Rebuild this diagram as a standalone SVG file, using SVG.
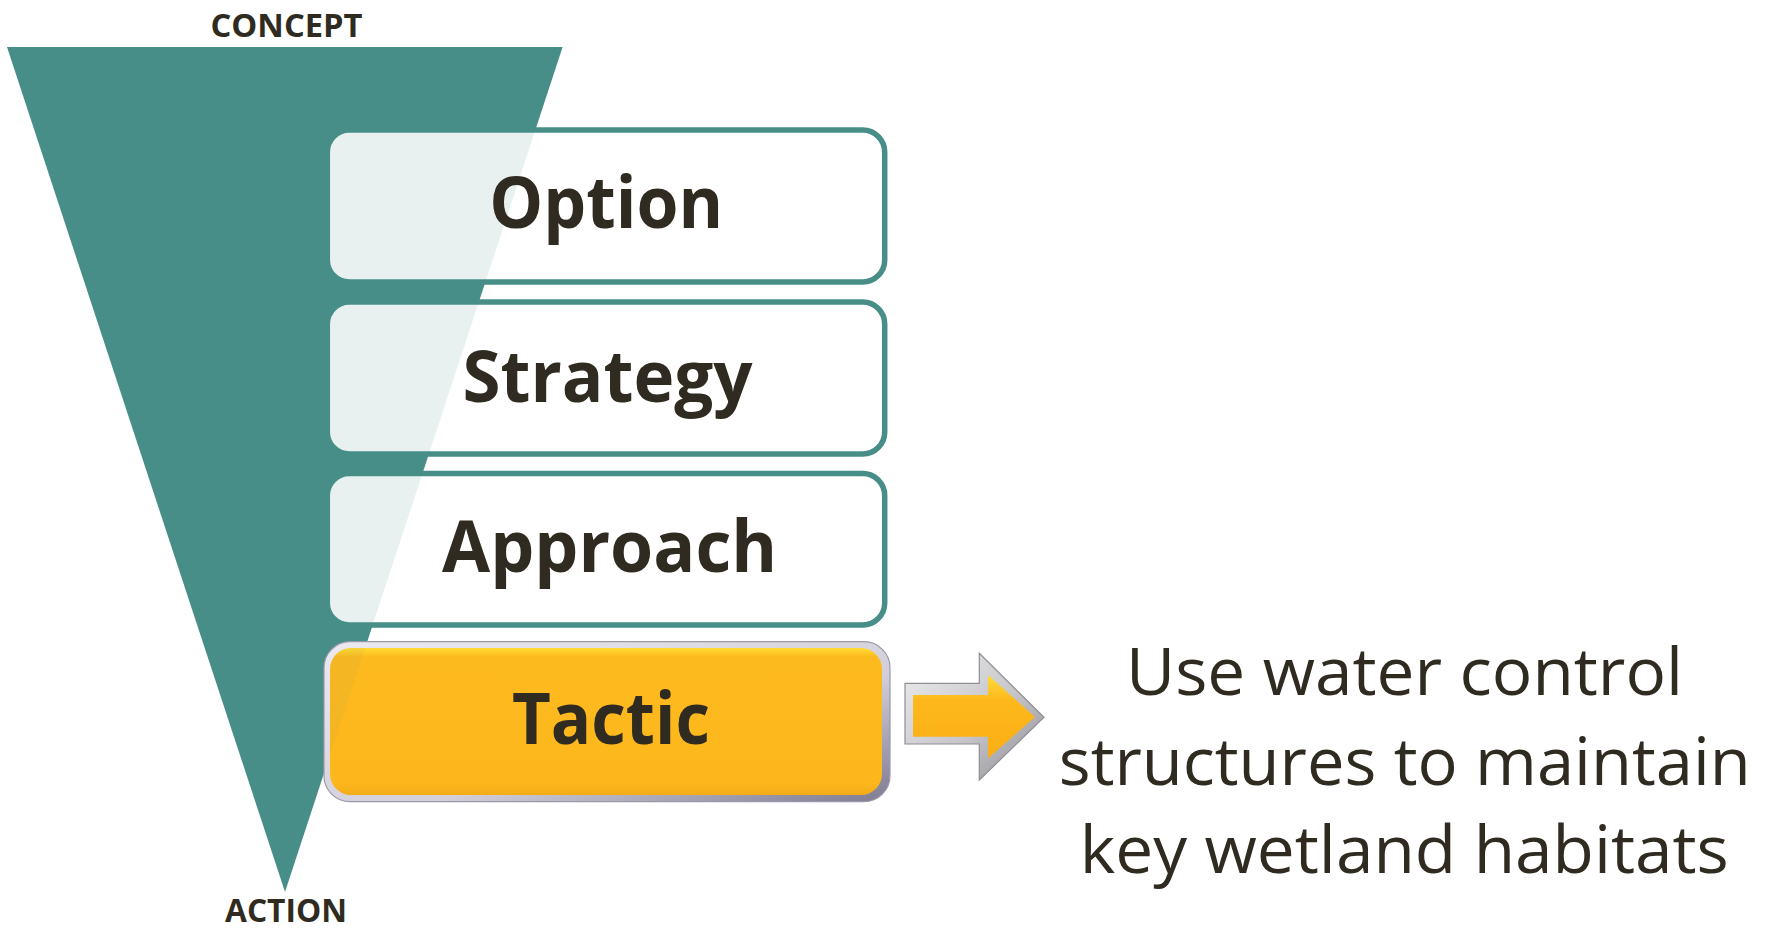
<svg xmlns="http://www.w3.org/2000/svg" width="1771" height="929" viewBox="0 0 1771 929">
<defs>
<style>
.lbl{font-family:"Open Sans","Liberation Sans",sans-serif;font-weight:700;fill:#2F2B21;text-anchor:middle}
.big{font-size:72px}
.small{font-size:32px}
.box{fill:#ffffff;fill-opacity:0.875;stroke:#478E89;stroke-width:5.5}
.desc{font-family:"Open Sans","Liberation Sans",sans-serif;font-weight:400;font-size:66px;fill:#2F2B21;text-anchor:middle}
</style>
<linearGradient id="yel" x1="0" y1="0" x2="0" y2="1">
<stop offset="0" stop-color="#FFDC34"/>
<stop offset="0.06" stop-color="#FDBA1E"/>
<stop offset="0.92" stop-color="#FDB71C"/>
<stop offset="1" stop-color="#F3AC16"/>
</linearGradient>
<linearGradient id="bevel" x1="0" y1="0" x2="1" y2="1">
<stop offset="0" stop-color="#ECEAF0"/>
<stop offset="0.6" stop-color="#D2CFDA"/>
<stop offset="1" stop-color="#7E7A90"/>
</linearGradient>
<linearGradient id="abevel" x1="0" y1="0" x2="1" y2="1">
<stop offset="0" stop-color="#EEEEF0"/>
<stop offset="0.55" stop-color="#C6C6CA"/>
<stop offset="1" stop-color="#8A8A90"/>
</linearGradient>
<linearGradient id="ayel" x1="0" y1="0" x2="0" y2="1">
<stop offset="0" stop-color="#FFDC3A"/>
<stop offset="0.3" stop-color="#FDB81C"/>
<stop offset="1" stop-color="#FBAE14"/>
</linearGradient>
<clipPath id="tclip">
<rect x="330" y="648" width="552" height="147" rx="21"/>
</clipPath>
</defs>
<rect width="1771" height="929" fill="#ffffff"/>

<g id="funnel">
<polygon points="7,47 562.6,47 285,892" fill="#478E89"/>
</g>
<g id="concept-label">
<text class="lbl small" x="286.5" y="37.3" textLength="152" lengthAdjust="spacingAndGlyphs">CONCEPT</text>
</g>
<g id="action-label">
<text class="lbl small" x="286" y="922" textLength="122" lengthAdjust="spacingAndGlyphs">ACTION</text>
</g>

<g id="option">
<rect class="box" x="327.3" y="130" width="557.4" height="152" rx="22"/>
<text class="lbl big" x="606.2" y="228" textLength="234" lengthAdjust="spacingAndGlyphs">Option</text>
</g>
<g id="strategy">
<rect class="box" x="327.3" y="302" width="557.4" height="152" rx="22"/>
<text class="lbl big" x="607.5" y="401.7" textLength="290" lengthAdjust="spacingAndGlyphs">Strategy</text>
</g>
<g id="approach">
<rect class="box" x="327.3" y="473.5" width="557.4" height="151.5" rx="22"/>
<text class="lbl big" x="609.6" y="571.7" textLength="335" lengthAdjust="spacingAndGlyphs">Approach</text>
</g>
<g id="tactic">
<rect x="324" y="641.7" width="566" height="160" rx="26" fill="url(#bevel)" stroke="#9C98AC" stroke-width="1.2"/>
<rect x="330" y="648" width="552" height="147" rx="21" fill="url(#yel)"/>
<polygon points="7,47 562.6,47 285,892" fill="#478E89" fill-opacity="0.05" clip-path="url(#tclip)"/>
<text class="lbl big" x="610.9" y="744" textLength="198" lengthAdjust="spacingAndGlyphs">Tactic</text>
</g>

<g id="connectors">
<polygon points="905,683.3 979.3,683.3 979.3,653.3 1044,717.3 979.3,780 979.3,744 905,744" fill="url(#abevel)" stroke="#8E8E94" stroke-width="1.2"/>
<polygon points="913,695 988,695 988,675 1035,717 988,758.3 988,736.7 913,736.7" fill="url(#ayel)"/>
</g>

<g id="description">
<text class="desc" x="1404.5" y="695" textLength="557" lengthAdjust="spacingAndGlyphs">Use water control</text>
<text class="desc" x="1404.8" y="785" textLength="692" lengthAdjust="spacingAndGlyphs">structures to maintain</text>
<text class="desc" x="1404.3" y="873.3" textLength="649" lengthAdjust="spacingAndGlyphs">key wetland habitats</text>
</g>
</svg>
